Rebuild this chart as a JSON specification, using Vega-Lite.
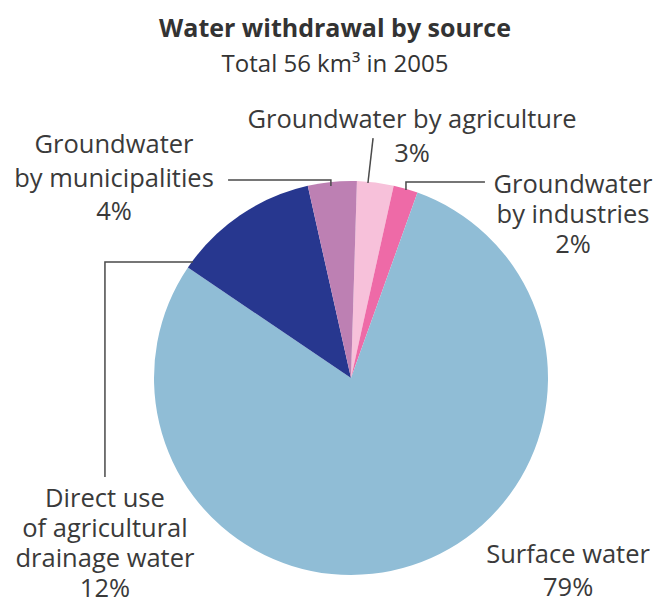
{
  "$schema": "https://vega.github.io/schema/vega-lite/v6.json",
  "width": 591,
  "height": 394,
  "autosize": {"type": "none"},
  "padding": {"left": 55.5, "top": 181, "right": 12.5, "bottom": 29},
  "background": "white",
  "config": {"view": {"stroke": null}, "font": "Open Sans"},
  "title": {
    "text": "Water withdrawal by source",
    "subtitle": "Total 56 km³ in 2005",
    "anchor": "middle",
    "dx": -16,
    "offset": 31,
    "font": "Open Sans",
    "fontSize": 25,
    "fontWeight": "bold",
    "color": "#333333",
    "subtitleFont": "Open Sans",
    "subtitleFontSize": 24,
    "subtitleColor": "#333333",
    "subtitlePadding": 11
  },
  "datasets": {
    "slices": [
      {"source": "Groundwater by agriculture", "pct": 3, "ord": 1},
      {"source": "Groundwater by industries", "pct": 2, "ord": 2},
      {"source": "Surface water", "pct": 79, "ord": 3},
      {"source": "Direct use of agricultural drainage water", "pct": 12, "ord": 4},
      {"source": "Groundwater by municipalities", "pct": 4, "ord": 5}
    ],
    "labels": [
      {"source": "Groundwater by municipalities", "text": "Groundwater\nby municipalities\n4%", "lx": -120.3, "ly": 114.2, "tight": false},
      {"source": "Groundwater by agriculture", "text": "Groundwater by agriculture\n3%", "lx": 31, "ly": 126.9, "tight": false},
      {"source": "Groundwater by industries", "text": "Groundwater\nby industries\n2%", "lx": 112.7, "ly": 93.9, "tight": true},
      {"source": "Direct use of agricultural drainage water", "text": "Direct use\nof agricultural\ndrainage water\n12%", "lx": -124.9, "ly": -65.5, "tight": true},
      {"source": "Surface water", "text": "Surface water\n79%", "lx": 110.2, "ly": -93.9, "tight": false}
    ],
    "leaders": [
      {"source": "Groundwater by municipalities", "step": 1, "px": -62.4, "py": 100.5},
      {"source": "Groundwater by municipalities", "step": 2, "px": -10.2, "py": 100.5},
      {"source": "Groundwater by municipalities", "step": 3, "px": -10.2, "py": 97.5},
      {"source": "Groundwater by agriculture", "step": 1, "px": 11.2, "py": 121.8},
      {"source": "Groundwater by agriculture", "step": 2, "px": 8.6, "py": 99.0},
      {"source": "Groundwater by industries", "step": 1, "px": 68.0, "py": 99.5},
      {"source": "Groundwater by industries", "step": 2, "px": 27.9, "py": 99.5},
      {"source": "Groundwater by industries", "step": 3, "px": 27.9, "py": 95.4},
      {"source": "Direct use of agricultural drainage water", "step": 1, "px": -124.9, "py": -50.3},
      {"source": "Direct use of agricultural drainage water", "step": 2, "px": -124.9, "py": 58.9},
      {"source": "Direct use of agricultural drainage water", "step": 3, "px": -80.2, "py": 58.9}
    ]
  },
  "layer": [
    {
      "data": {"name": "slices"},
      "mark": {"type": "arc", "outerRadius": 197, "stroke": null},
      "encoding": {
        "theta": {"field": "pct", "type": "quantitative", "stack": true, "scale": {"range": [0.03, 6.3132]}},
        "order": {"field": "ord", "type": "quantitative"},
        "color": {
          "field": "source",
          "type": "nominal",
          "legend": null,
          "scale": {
            "domain": ["Groundwater by agriculture", "Groundwater by industries", "Surface water", "Direct use of agricultural drainage water", "Groundwater by municipalities"],
            "range": ["#f7c1da", "#ee6aa7", "#90bdd6", "#27378f", "#bd80b3"]
          }
        }
      }
    },
    {
      "data": {"name": "leaders"},
      "mark": {"type": "line", "color": "#4a4a4a", "strokeWidth": 1.5, "strokeCap": "butt", "strokeJoin": "miter"},
      "encoding": {
        "x": {"field": "px", "type": "quantitative", "scale": {"domain": [-150, 150], "nice": false, "zero": false}, "axis": null},
        "y": {"field": "py", "type": "quantitative", "scale": {"domain": [-100, 100], "nice": false, "zero": false}, "axis": null},
        "detail": {"field": "source"},
        "order": {"field": "step", "type": "quantitative"}
      }
    },
    {
      "data": {"name": "labels"},
      "transform": [{"filter": "!datum.tight"}],
      "mark": {"type": "text", "align": "center", "baseline": "alphabetic", "lineBreak": "\n", "lineHeight": 33.5, "fontSize": 25.5, "font": "Open Sans", "color": "#3a3a3a"},
      "encoding": {
        "x": {"field": "lx", "type": "quantitative", "scale": {"domain": [-150, 150], "nice": false, "zero": false}, "axis": null},
        "y": {"field": "ly", "type": "quantitative", "scale": {"domain": [-100, 100], "nice": false, "zero": false}, "axis": null},
        "text": {"field": "text"}
      }
    },
    {
      "data": {"name": "labels"},
      "transform": [{"filter": "datum.tight"}],
      "mark": {"type": "text", "align": "center", "baseline": "alphabetic", "lineBreak": "\n", "lineHeight": 30, "fontSize": 25.5, "font": "Open Sans", "color": "#3a3a3a"},
      "encoding": {
        "x": {"field": "lx", "type": "quantitative", "scale": {"domain": [-150, 150], "nice": false, "zero": false}, "axis": null},
        "y": {"field": "ly", "type": "quantitative", "scale": {"domain": [-100, 100], "nice": false, "zero": false}, "axis": null},
        "text": {"field": "text"}
      }
    }
  ]
}
